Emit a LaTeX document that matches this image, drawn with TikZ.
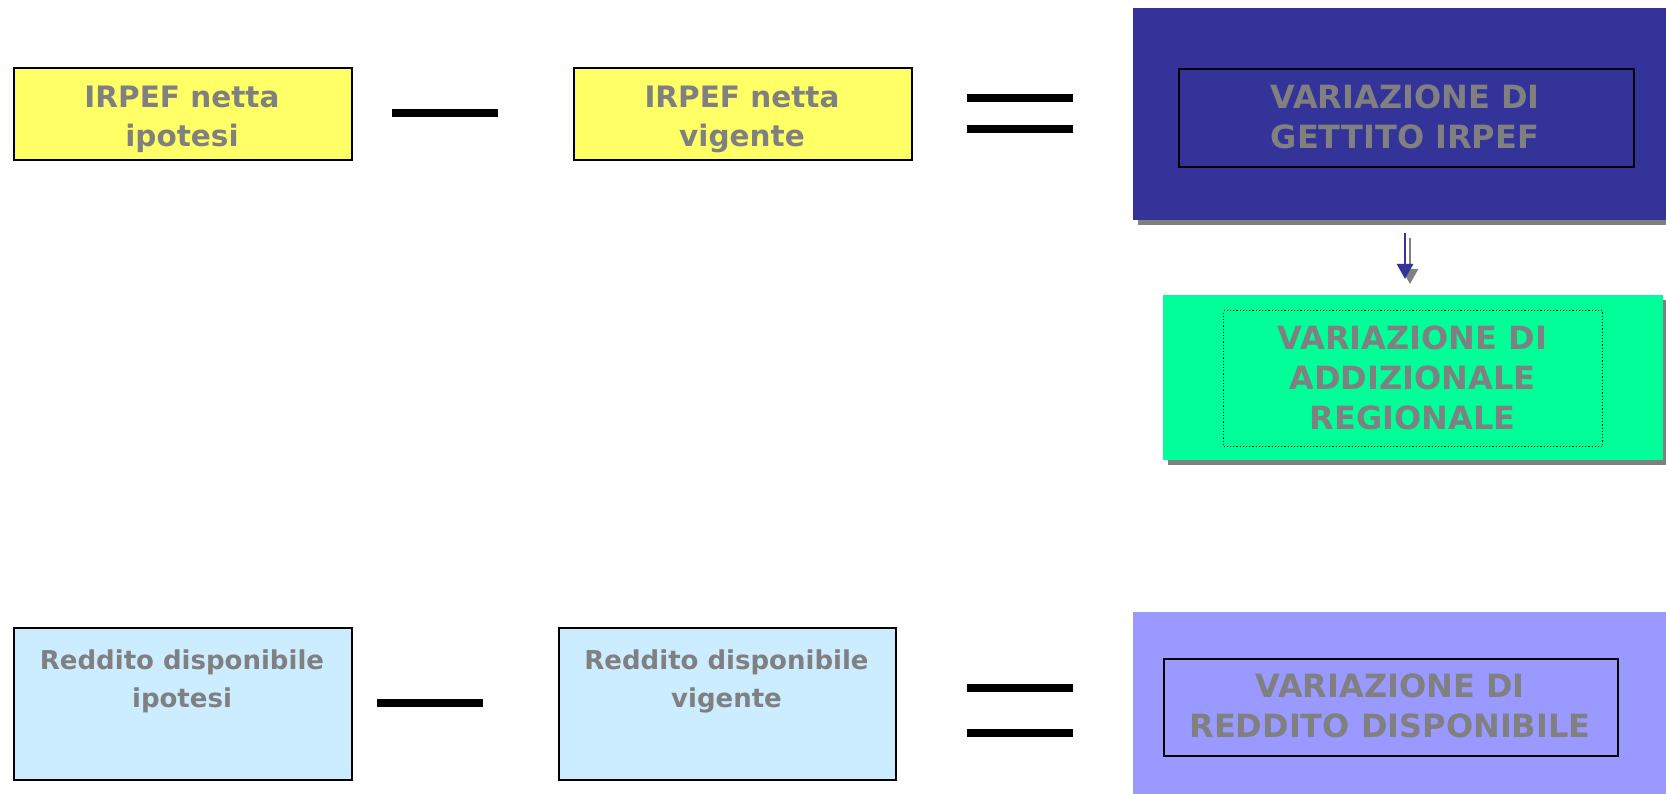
\documentclass[tikz,border=0pt]{standalone}
\usepackage{fontspec}
\setmainfont{DejaVu Sans}
\usetikzlibrary{arrows.meta,shadows}
\definecolor{boxyellow}{HTML}{FFFF66}
\definecolor{boxnavy}{HTML}{333399}
\definecolor{boxgreen}{HTML}{00FF99}
\definecolor{boxsky}{HTML}{CCECFF}
\definecolor{boxlilac}{HTML}{9999FF}
\definecolor{labelgray}{HTML}{808080}
\begin{document}
\begin{tikzpicture}[x=1pt,y=-1pt,
  box/.style={draw=black,line width=1.8pt,inner sep=0pt,anchor=north west},
  panel/.style={inner sep=0pt,anchor=north west,
    drop shadow={shadow xshift=5pt,shadow yshift=-5pt,fill=labelgray,opacity=1}},
  frame/.style={draw=black,line width=1.8pt,inner sep=0pt,anchor=north west},
  dotframe/.style={draw=black,line width=1.2pt,dotted,inner sep=0pt,anchor=north west},
  % texts are placed by the baseline of their last line
  txt/.style={text=labelgray,align=center,inner sep=0pt,anchor=base},
  bigtxt/.style={txt,font=\bfseries\fontsize{32}{40}\selectfont},
  midtxt/.style={txt,font=\bfseries\fontsize{29.5}{39}\selectfont},
  smalltxt/.style={txt,font=\bfseries\fontsize{26}{38}\selectfont},
  op/.style={line width=8pt}]
\useasboundingbox (0,0) rectangle (1666,794);

% ---- first row: IRPEF ----
\node[box,fill=boxyellow,minimum width=338pt,minimum height=92pt] (ia) at (13,67) {};
\node[midtxt] (iat) at (182,147) {IRPEF netta\\ipotesi};
\node[box,fill=boxyellow,minimum width=338pt,minimum height=92pt] (ib) at (573,67) {};
\node[midtxt] (ibt) at (742,147) {IRPEF netta\\vigente};

\coordinate (m1a) at (392,113.5); \coordinate (m1b) at (498,113.5);
\draw[op] (m1a) -- (m1b);
\coordinate (e1a) at (967,98); \coordinate (e1b) at (1073,98);
\coordinate (e1c) at (967,129); \coordinate (e1d) at (1073,129);
\draw[op] (e1a) -- (e1b);
\draw[op] (e1c) -- (e1d);

\node[panel,fill=boxnavy,minimum width=560pt,minimum height=212pt] (ic) at (1133,8) {};
\node[frame,minimum width=455pt,minimum height=98pt] (icf) at (1178,68) {};
\node[bigtxt] (ict) at (1405,149) {VARIAZIONE DI\\GETTITO IRPEF};

% ---- regional surcharge ----
\node[panel,fill=boxgreen,minimum width=500pt,minimum height=165pt] (rg) at (1163,295) {};
\node[dotframe,minimum width=379pt,minimum height=136pt] (rgf) at (1223,310) {};
\node[bigtxt] (rgt) at (1412.5,429) {VARIAZIONE DI\\ADDIZIONALE\\REGIONALE};

\coordinate (arA) at (1405,233);
\coordinate (arB) at (1405,279);
\draw[labelgray,line width=2.5pt,-{Triangle[width=16pt,length=15pt]}]
  ([shift={(5,5)}]arA) -- ([shift={(5,5)}]arB);
\draw[boxnavy,line width=2.5pt,-{Triangle[width=16pt,length=15pt]}] (arA) -- (arB);

% ---- second row: disposable income ----
\node[box,fill=boxsky,minimum width=338pt,minimum height=152pt] (da) at (13,627) {};
\node[smalltxt] (dat) at (182,707) {Reddito disponibile\\ipotesi};
\node[box,fill=boxsky,minimum width=337pt,minimum height=152pt] (db) at (558,627) {};
\node[smalltxt] (dbt) at (726.5,707) {Reddito disponibile\\vigente};

\coordinate (m2a) at (377,703); \coordinate (m2b) at (483,703);
\draw[op] (m2a) -- (m2b);
\coordinate (e2a) at (967,688); \coordinate (e2b) at (1073,688);
\coordinate (e2c) at (967,733); \coordinate (e2d) at (1073,733);
\draw[op] (e2a) -- (e2b);
\draw[op] (e2c) -- (e2d);

\node[inner sep=0pt,anchor=north west,fill=boxlilac,minimum width=560pt,minimum height=200pt] (dc) at (1133,612) {};
\node[frame,minimum width=454pt,minimum height=97pt] (dcf) at (1163,658) {};
\node[bigtxt] (dct) at (1390,737) {VARIAZIONE DI\\REDDITO DISPONIBILE};
\end{tikzpicture}
\end{document}
